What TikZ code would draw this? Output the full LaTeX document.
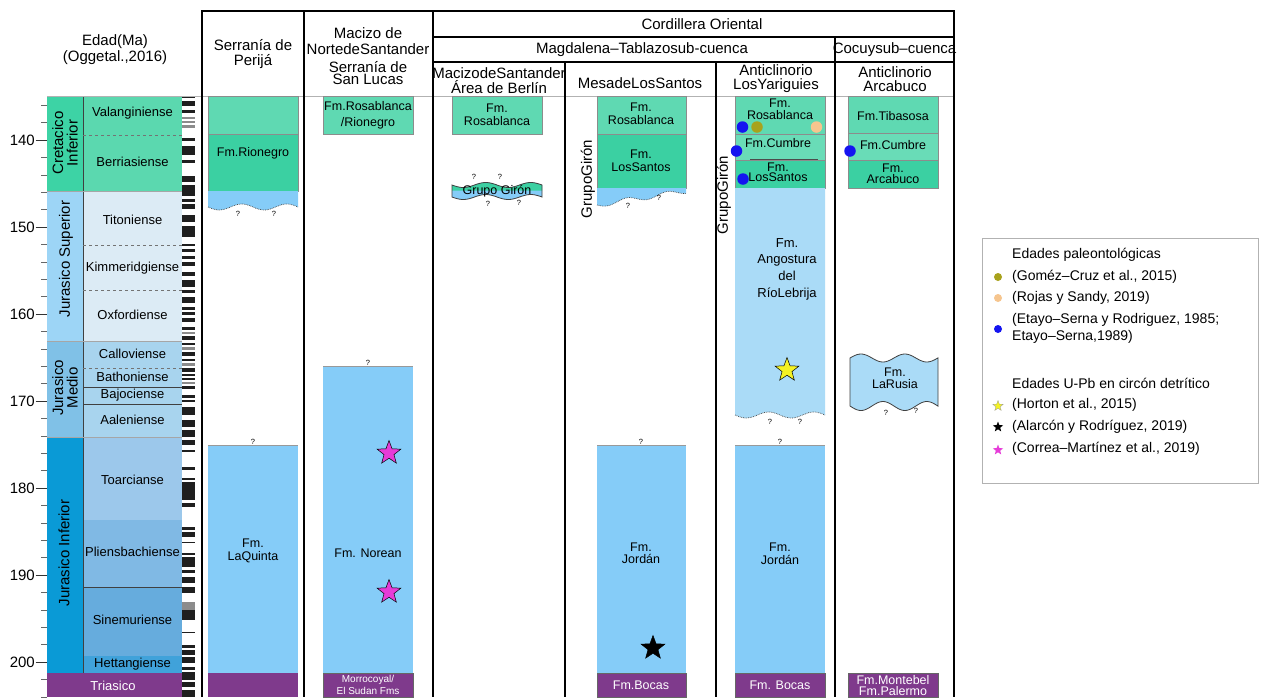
\documentclass[tikz,border=0pt]{standalone}
\usepackage{fontspec}
\setmainfont{Liberation Sans}
\usetikzlibrary{shapes.geometric}
\definecolor{grL}{HTML}{5FD9B2}
\definecolor{grL2}{HTML}{69DCB7}
\definecolor{grD}{HTML}{3BD0A2}
\definecolor{grP}{HTML}{3DD3A5}
\definecolor{grS}{HTML}{5BD8AF}
\definecolor{jsP}{HTML}{9DD5F6}
\definecolor{jsS}{HTML}{DCEBF5}
\definecolor{jmP}{HTML}{80C1E7}
\definecolor{jmS}{HTML}{A8D4EE}
\definecolor{jiP}{HTML}{0A9AD6}
\definecolor{toaC}{HTML}{9CC8EB}
\definecolor{pliC}{HTML}{80B9E4}
\definecolor{sinC}{HTML}{66ACDD}
\definecolor{hetC}{HTML}{40A2DA}
\definecolor{triC}{HTML}{7F3A8C}
\definecolor{blu}{HTML}{85CCF8}
\definecolor{bluL}{HTML}{AADBF7}
\definecolor{dotB}{HTML}{1414F0}
\definecolor{dotO}{HTML}{A8A21C}
\definecolor{dotP}{HTML}{F6C58E}
\definecolor{stY}{HTML}{F4F224}
\definecolor{stP}{HTML}{E63CD8}
\begin{document}
\begin{tikzpicture}[x=1pt,y=-1pt,
  hdr/.style={font=\fontsize{15}{16}\selectfont,align=center,inner sep=0pt},
  stg/.style={font=\fontsize{13}{14}\selectfont,inner sep=0pt},
  per/.style={font=\fontsize{15}{14.5}\selectfont,align=center,inner sep=0pt,rotate=90},
  lbl/.style={font=\fontsize{12.5}{12.5}\selectfont,align=center,inner sep=0pt},
  lblw/.style={lbl,text=white},
  qm/.style={font=\fontsize{7.5}{7.5}\selectfont,inner sep=0pt},
  agelab/.style={font=\fontsize{15}{15}\selectfont,anchor=east,inner sep=0pt},
  leg/.style={font=\fontsize{14}{17}\selectfont,anchor=west,inner sep=0pt,align=left},
  boxline/.style={draw=black!45,line width=0.5pt},
  frame/.style={line width=1.9pt},
  dot/.style={circle,minimum size=11.5pt,inner sep=0pt},
  ldot/.style={circle,minimum size=8pt,inner sep=0pt},
  bigstar/.style={star,star points=5,star point ratio=2.4,minimum size=25pt,inner sep=0pt,draw=black,line width=0.5pt},
  smallstar/.style={star,star points=5,star point ratio=2.4,minimum size=11pt,inner sep=0pt},
  wavedot/.style={draw=black!75,densely dotted,line width=0.7pt},
]
\useasboundingbox (0,0) rectangle (1264,697);
\fill[white] (0,0) rectangle (1264,697);

% ---------------- time scale ----------------
\fill[grP] (47,96) rectangle (83,191);
\fill[jsP] (47,191) rectangle (83,341);
\fill[jmP] (47,341) rectangle (83,437);
\fill[jiP] (47,437) rectangle (83,673);
\fill[grS] (83,96) rectangle (182,191);
\fill[jsS] (83,191) rectangle (182,341);
\fill[jmS] (83,341) rectangle (182,437);
\fill[toaC] (83,437) rectangle (182,520);
\fill[pliC] (83,520) rectangle (182,587);
\fill[sinC] (83,587) rectangle (182,656);
\fill[hetC] (83,656) rectangle (182,673);
\fill[triC] (47,673) rectangle (182,697);
\draw[black!75,line width=0.6pt] (83,96) -- (83,673);
\draw[black!35,line width=0.5pt] (47,191) -- (182,191) (47,341) -- (182,341) (47,437) -- (182,437);
\draw[black!75,line width=0.6pt] (83,387) -- (182,387) (83,404) -- (182,404) (83,587) -- (182,587);
\draw[black!55,dashed,line width=0.5pt] (83,135) -- (182,135) (83,245) -- (182,245) (83,290) -- (182,290) (83,368) -- (182,368);

\foreach \a in {136,138,...,204} \draw[black!60,line width=0.5pt] (41,{8.7*\a-1078}) -- (47,{8.7*\a-1078});
\foreach \a in {140,150,...,200} {
  \draw[black!80,line width=0.6pt] (35.5,{8.7*\a-1078}) -- (47,{8.7*\a-1078});
  \node[agelab] (age\a) at (35,{8.7*\a-1078}) {\a};
}

\node[stg] (valang) at (132.5,113) {Valanginiense};
\node[stg] (berri) at (132.5,162) {Berriasiense};
\node[stg] (tito) at (132.5,220) {Titoniense};
\node[stg] (kimm) at (132.5,268) {Kimmeridgiense};
\node[stg] (oxf) at (132.5,315) {Oxfordiense};
\node[stg] (call) at (132.5,354) {Calloviense};
\node[stg] (bath) at (132.5,377) {Bathoniense};
\node[stg] (bajo) at (132.5,395.5) {Bajociense};
\node[stg] (aale) at (132.5,420) {Aaleniense};
\node[stg] (toar) at (132.5,480) {Toarcianse};
\node[stg] (plie) at (132.5,552) {Pliensbachiense};
\node[stg] (sine) at (132.5,620) {Sinemuriense};
\node[stg] (hett) at (132.5,664.5) {Hettangiense};
\node[stg,text=white] (tria) at (113,686) {Triasico};

\node[per] (cret) at (65,143) {Cretacico\\Inferior};
\node[per] (jsup) at (66,259) {Jurasico Superior};
\node[per] (jmed) at (65,388) {Jurasico\\Medio};
\node[per] (jinf) at (64,553) {Jurasico Inferior};

\node[hdr] (edad) at (115,42) {Edad(Ma)};
\node[hdr] (ogg) at (115,58) {(Oggetal.,2016)};

% polarity bar
\fill[white] (182,96) rectangle (195,697);
\foreach \a/\b in {96/98,101/106,110/113,138/141,146/155,160/163,176/182,185/196,199/202,204/209,215/222,226/237,244/246,249/252,256/259,262/266,272/276,280/287,290/293,297/303,307/310,312/315,318/322,327/330,336/340,343/345,352/356,359/361,368/372,374/376,378/380,386/389,395/398,400/402,407/415,420/427,430/437,440/445,450/452,467/470,478/480,482/500,503/507,527/530,532/537,542/543,553/555,557/567,570/573,577/583,587/593,610/620,632/633,645/648,650/655,657/663,667/670,672/680,682/687,690/697}
  \fill[black!88] (182,\a) rectangle (195,\b);
\foreach \a/\b in {117/119,121/123,125/128,332/334,347/350,363/366,382/384,602/610}
  \fill[black!45] (182,\a) rectangle (195,\b);

% ---------------- table frame ----------------
\draw[black!30,line width=0.6pt] (47,96) -- (954,96);
\draw[frame] (202,697) -- (202,11) -- (954,11) -- (954,697);
\draw[frame] (304,11) -- (304,697);
\draw[frame] (433,11) -- (433,697);
\draw[frame] (565,62) -- (565,697);
\draw[frame] (716,62) -- (716,697);
\draw[frame] (835,37) -- (835,697);
\draw[line width=1.6pt] (433,37) -- (954,37);
\draw[line width=1.6pt] (433,62) -- (954,62);

\node[hdr] (perija) at (253,54) {Serranía de\\[-1pt]Perijá};
\node[hdr] (macizoN) at (368,41) {Macizo de\\NortedeSantander};
\node[hdr,font=\fontsize{15}{12.5}\selectfont] (sanlucas) at (368,73) {Serranía de\\San Lucas};
\node[hdr] (cordillera) at (702,24) {Cordillera Oriental};
\node[hdr] (magdalena) at (642,50) {Magdalena–Tablazosub-cuenca};
\node[hdr] (cocuy) at (894.5,50) {Cocuysub–cuenca};
\node[hdr] (berlin) at (499,80.5) {MacizodeSantander\\[-1pt]Área de Berlín};
\node[hdr] (mesa) at (640,83) {MesadeLosSantos};
\node[hdr] (yarig) at (776,79) {Anticlinorio\\[-2pt]LosYariguies};
\node[hdr] (arcab) at (895,79) {Anticlinorio\\[-2pt]Arcabuco};

% ---------------- Perija ----------------
\filldraw[fill=grL,boxline] (208,96) rectangle (298,134);
\filldraw[fill=grD,boxline] (208,134) rectangle (298,191);
\fill[blu] (208,191) -- plot[domain=208:298,samples=50] (\x,{207+3*sin((\x-208)*8)}) -- (298,191) -- cycle;
\draw[wavedot] plot[domain=208:298,samples=50] (\x,{207+3*sin((\x-208)*8)});
\node[qm] (qp1) at (238,214) {?};
\node[qm] (qp2) at (274,214) {?};
\node[lbl] (rionegro) at (253,153) {Fm.Rionegro};
\fill[blu] (208,445) rectangle (298,673);
\draw[black!40,line width=0.5pt] (208,445) -- (298,445);
\node[qm] (qp3) at (253,442) {?};
\node[lbl] (laquinta) at (253,551) {Fm.\\LaQuinta};
\fill[triC] (208,673) rectangle (298,697);

% ---------------- Norte de Santander ----------------
\filldraw[fill=grL,boxline] (323,96) rectangle (413,134);
\node[lbl,font=\fontsize{12.5}{16.5}\selectfont] (rosario) at (368,115.5) {Fm.Rosablanca\\/Rionegro};
\fill[blu] (323,366) rectangle (413,673);
\draw[black!40,line width=0.5pt] (323,366) -- (413,366);
\node[qm] (qn1) at (368,363) {?};
\node[lbl] (norean) at (368,553) {Fm. Norean};
\node[bigstar,fill=stP] (starN1) at (389,453) {};
\node[bigstar,fill=stP] (starN2) at (389,592) {};
\filldraw[fill=triC,draw=black!60,line width=0.5pt] (323,673) rectangle (413,697);
\node[lblw,font=\fontsize{10}{11.5}\selectfont] (morro) at (368,685) {Morrocoyal/\\El Sudan Fms};

% ---------------- Berlin ----------------
\filldraw[fill=grL,boxline] (452,96) rectangle (542,134);
\node[lbl,font=\fontsize{12.5}{13.5}\selectfont] (rosaB) at (497,115) {Fm.\\Rosablanca};
\fill[blu] plot[domain=452:542,samples=50] (\x,{185+2.5*sin((\x-452)*8)}) -- plot[domain=0:90,samples=50] ({542-\x},{197+2.5*sin((90-\x)*8)}) -- cycle;
\fill[grD] plot[domain=452:542,samples=50] (\x,{185+2.5*sin((\x-452)*8)}) -- (542,190.5) -- (452,190.5) -- cycle;
\draw[black!75,line width=0.8pt] plot[domain=452:542,samples=50] (\x,{185+2.5*sin((\x-452)*8)}) -- plot[domain=0:90,samples=50] ({542-\x},{197+2.5*sin((90-\x)*8)}) -- cycle;
\node[lbl] (gironB) at (497,191) {Grupo Girón};
\node[qm] (qb1) at (474,177) {?};
\node[qm] (qb2) at (500,177) {?};
\node[qm] (qb3) at (488,203.5) {?};
\node[qm] (qb4) at (519,202.5) {?};

% ---------------- Mesa de Los Santos ----------------
\filldraw[fill=grL,boxline] (597,96) rectangle (686,134);
\node[lbl,font=\fontsize{12.5}{13}\selectfont] (rosaM) at (641,113.5) {Fm.\\Rosablanca};
\filldraw[fill=grD,boxline] (597,134) rectangle (686,188);
\node[lbl,font=\fontsize{12.5}{12.5}\selectfont] (santosM) at (641,161) {Fm.\\LosSantos};
\fill[blu] (597,188) -- plot[domain=597:686,samples=50] (\x,{205-(\x-597)*14/89+2.5*sin((\x-597)*9)}) -- (686,188) -- cycle;
\draw[wavedot] plot[domain=597:686,samples=50] (\x,{205-(\x-597)*14/89+2.5*sin((\x-597)*9)});
\node[qm] (qm1) at (628,206) {?};
\node[qm] (qm2) at (659,198) {?};
\node[hdr,rotate=90] (gironM) at (588,179) {GrupoGirón};
\fill[blu] (597,445) rectangle (686,673);
\draw[black!40,line width=0.5pt] (597,445) -- (686,445);
\node[qm] (qm3) at (641,442) {?};
\node[lbl] (jordanM) at (641,553.5) {Fm.\\Jordán};
\node[bigstar,fill=black] (starA) at (653,648) {};
\filldraw[fill=triC,draw=black!60,line width=0.5pt] (597,673) rectangle (686,697);
\node[lblw] (bocasM) at (641,685) {Fm.Bocas};

% ---------------- Los Yariguies ----------------
\filldraw[fill=grL,boxline] (735,96) rectangle (825,134);
\node[lbl,font=\fontsize{12.5}{11.5}\selectfont] (rosaY) at (780,109.5) {Fm.\\Rosablanca};
\filldraw[fill=grL2,boxline] (735,134) rectangle (825,160);
\node[lbl] (cumbreY) at (778,143.5) {Fm.Cumbre};
\filldraw[fill=grD,boxline] (735,160) rectangle (825,188);
\draw[black!70,line width=0.6pt] (750,159.5) -- (818,159.5);
\node[lbl,font=\fontsize{12.5}{10.5}\selectfont] (santosY) at (778,172.5) {Fm.\\LosSantos};
\fill[bluL] (735,188) -- plot[domain=735:825,samples=50] (\x,{415+3*sin((\x-735)*8)}) -- (825,188) -- cycle;
\draw[wavedot] plot[domain=735:825,samples=50] (\x,{415+3*sin((\x-735)*8)});
\node[qm] (qy1) at (770,422) {?};
\node[qm] (qy2) at (800,422) {?};
\node[lbl,font=\fontsize{13}{16.7}\selectfont] (angost) at (787,269) {Fm.\\Angostura\\del\\RíoLebrija};
\node[bigstar,fill=stY] (starH) at (787,370) {};
\node[hdr,rotate=90] (gironY) at (724,195) {GrupoGirón};
\node[dot,fill=dotB] (dY1) at (742.5,127) {};
\node[dot,fill=dotO] (dY2) at (757,127) {};
\node[dot,fill=dotP] (dY3) at (816.5,127) {};
\node[dot,fill=dotB] (dY4) at (736.5,151) {};
\node[dot,fill=dotB] (dY5) at (743,179) {};
\fill[blu] (735,445) rectangle (825,673);
\draw[black!40,line width=0.5pt] (735,445) -- (825,445);
\node[qm] (qy3) at (780,442) {?};
\node[lbl] (jordanY) at (780,554) {Fm.\\Jordán};
\filldraw[fill=triC,draw=black!60,line width=0.5pt] (735,673) rectangle (825,697);
\node[lblw] (bocasY) at (780,685) {Fm. Bocas};

% ---------------- Arcabuco ----------------
\filldraw[fill=grL,boxline] (848,96) rectangle (938,133);
\node[lbl] (tibasosa) at (893,116) {Fm.Tibasosa};
\filldraw[fill=grL2,boxline] (848,133) rectangle (938,160);
\node[lbl] (cumbreA) at (893,145) {Fm.Cumbre};
\filldraw[fill=grD,boxline] (848,160) rectangle (938,188);
\node[lbl,font=\fontsize{12.5}{11}\selectfont] (arcabF) at (893,173.5) {Fm.\\Arcabuco};
\node[dot,fill=dotB] (dA1) at (850,151) {};
\filldraw[fill=bluL,draw=black!75,line width=0.8pt] plot[domain=850:938,samples=50] (\x,{358-4*sin((\x-850)*8.2)}) -- plot[domain=0:88,samples=50] ({938-\x},{406+4.5*sin((88-\x)*8.2)}) -- cycle;
\node[lbl] (larusia) at (895,378.5) {Fm.\\LaRusia};
\node[qm] (qa1) at (886,413) {?};
\node[qm] (qa2) at (916,411) {?};
\filldraw[fill=triC,draw=black!60,line width=0.5pt] (848,673) rectangle (938,697);
\node[lblw,font=\fontsize{12.5}{11.5}\selectfont] (monte) at (893,685.5) {Fm.Montebel\\Fm.Palermo};

% ---------------- legend ----------------
\draw[black!30,line width=0.6pt] (982,238) rectangle (1258,483);
\node[leg] (legP) at (1012,255) {Edades paleontológicas};
\node[ldot,fill=dotO] (ld1) at (998,277) {};
\node[leg] (leg1) at (1012,277) {(Goméz–Cruz et al., 2015)};
\node[ldot,fill=dotP] (ld2) at (998,298) {};
\node[leg] (leg2) at (1012,298) {(Rojas y Sandy, 2019)};
\node[ldot,fill=dotB] (ld3) at (998,329) {};
\node[leg] (leg3) at (1012,328.5) {(Etayo–Serna y Rodriguez, 1985;\\Etayo–Serna,1989)};
\node[leg] (legU) at (1012,383) {Edades U-Pb en circón detrítico};
\node[smallstar,fill=stY,draw=black!40,line width=0.3pt] (ls1) at (998,406) {};
\node[leg] (leg4) at (1012,405) {(Horton et al., 2015)};
\node[smallstar,fill=black] (ls2) at (998,427) {};
\node[leg] (leg5) at (1012,427) {(Alarcón y Rodríguez, 2019)};
\node[smallstar,fill=stP] (ls3) at (998,450) {};
\node[leg] (leg6) at (1012,449) {(Correa–Martínez et al., 2019)};
\end{tikzpicture}
\end{document}
